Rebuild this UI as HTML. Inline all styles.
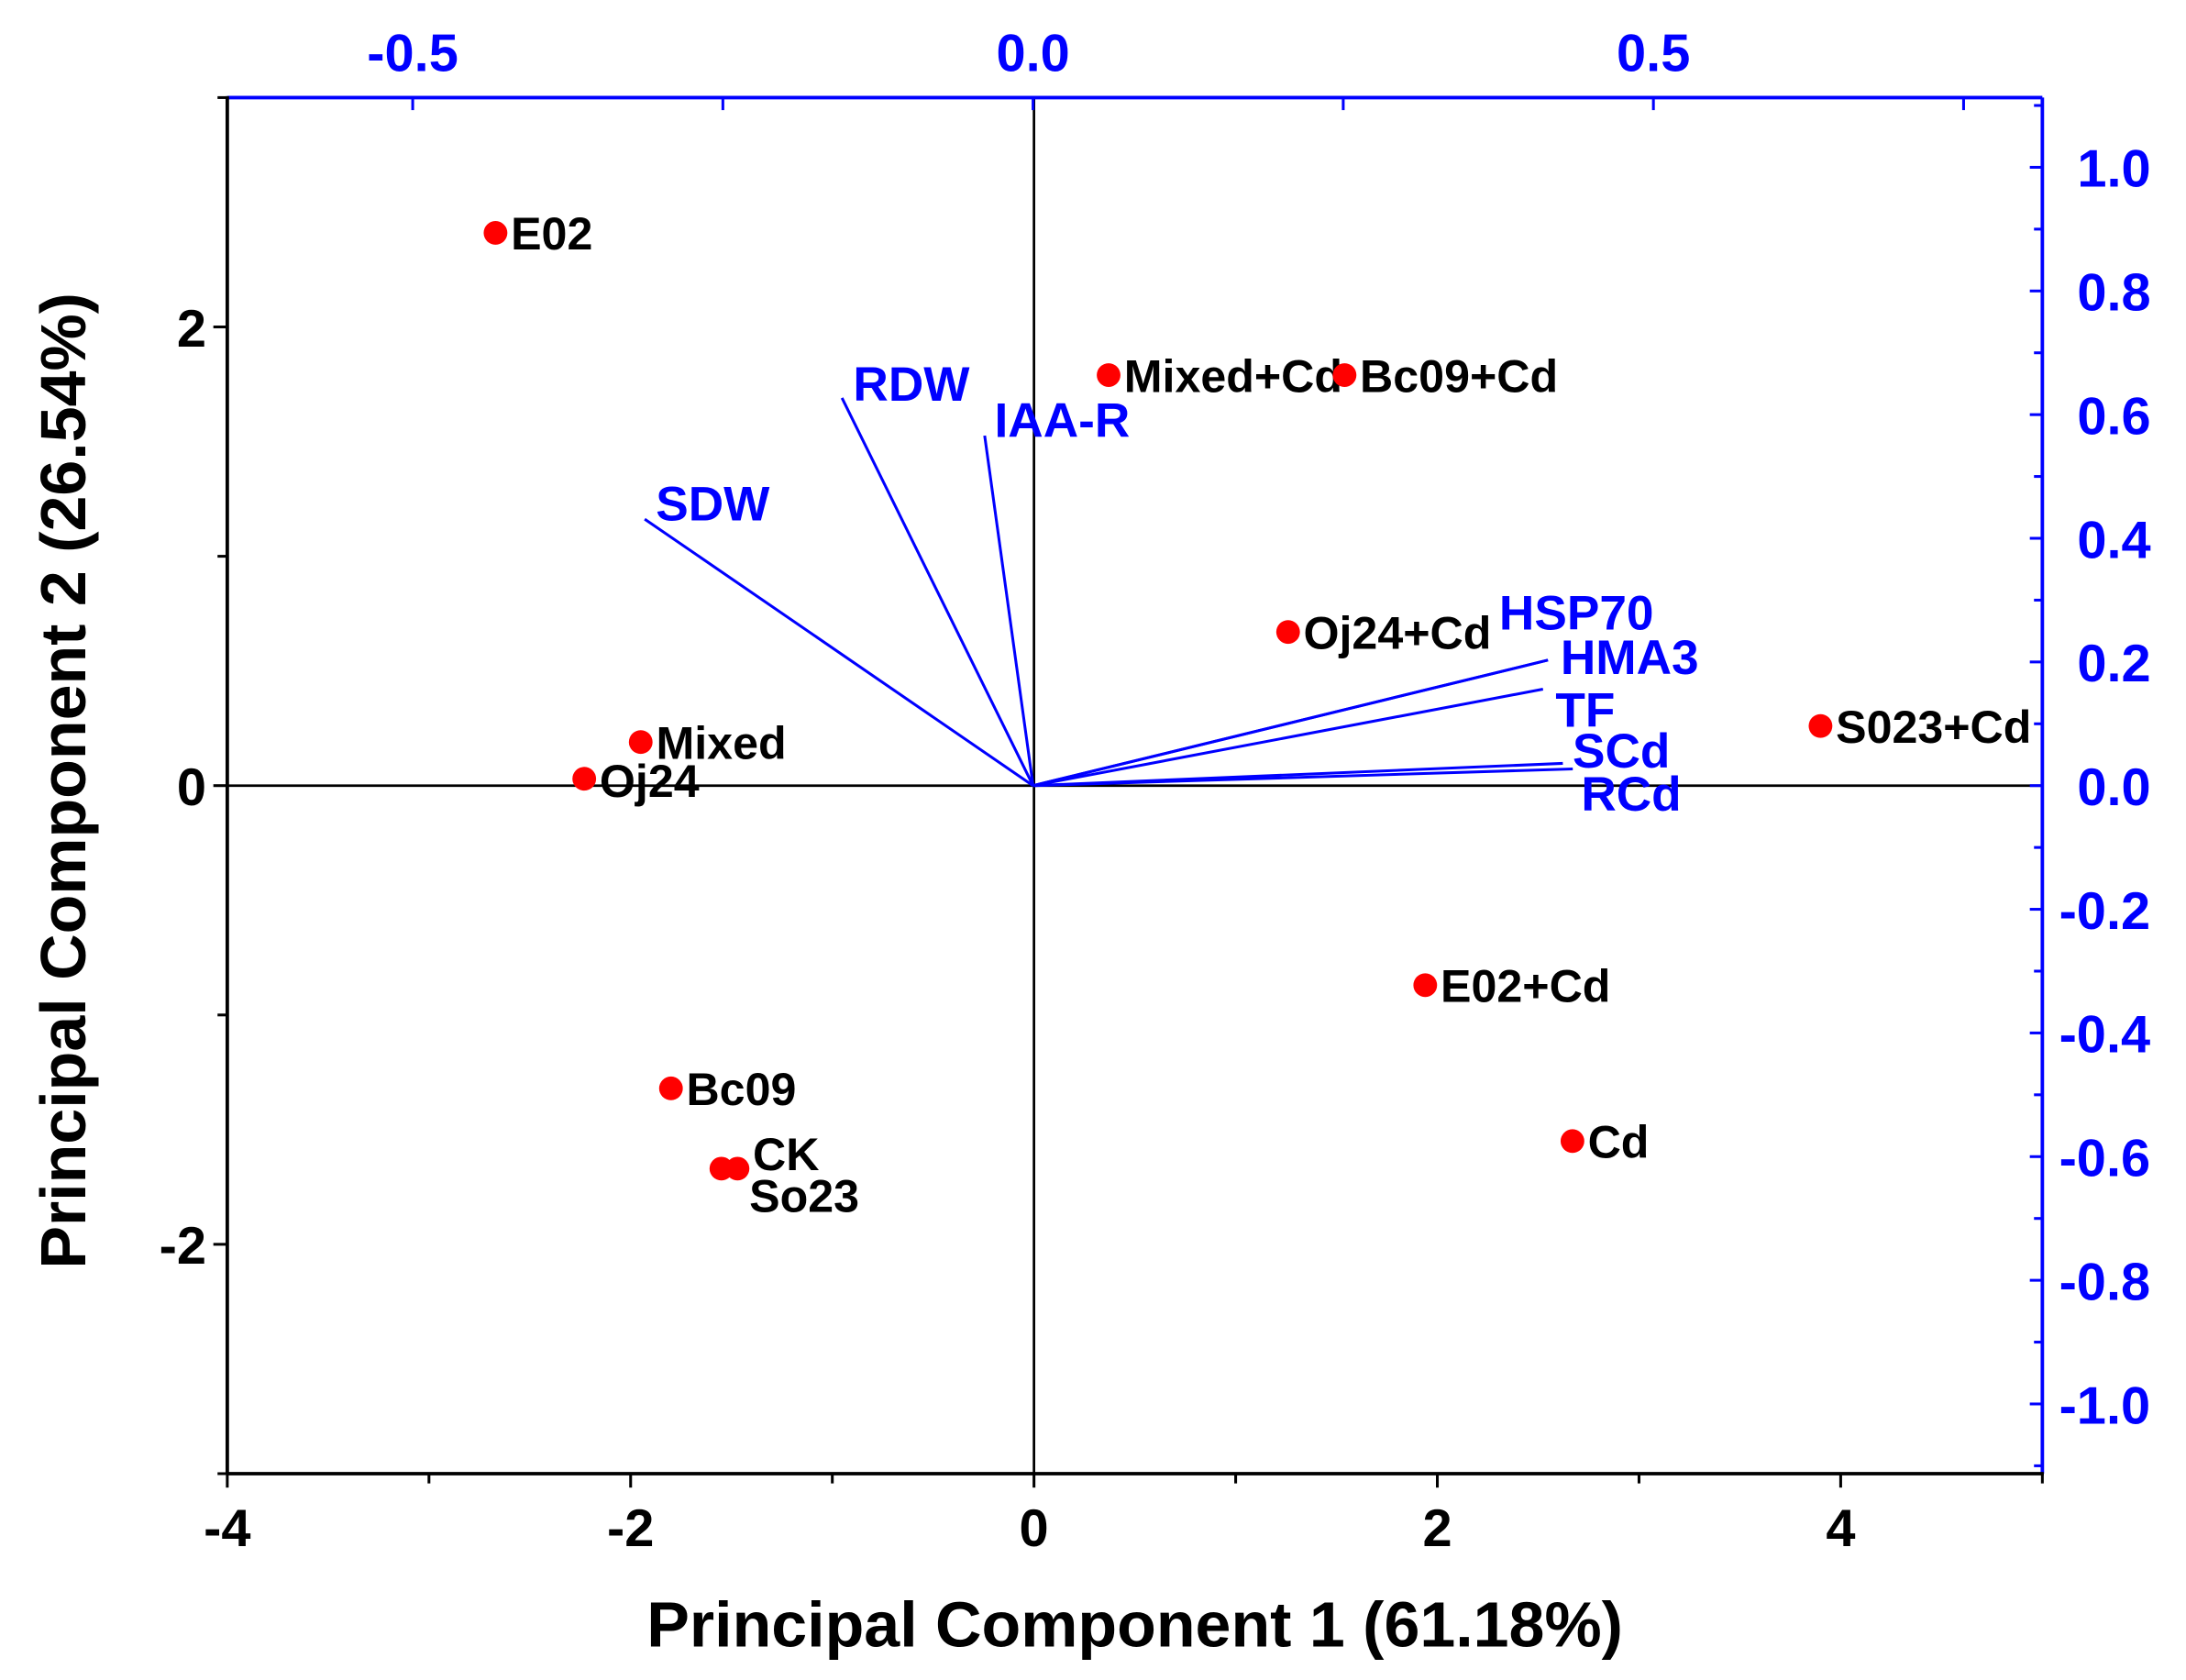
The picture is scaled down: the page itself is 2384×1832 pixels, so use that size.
<!DOCTYPE html>
<html><head><meta charset="utf-8"><style>html,body{margin:0;padding:0;background:#fff}svg{display:block}text{font-family:"Liberation Sans",Arial,sans-serif;font-weight:bold}</style></head>
<body>
<svg id="chart" width="2384" height="1832" viewBox="0 0 1568 1205" xmlns="http://www.w3.org/2000/svg"></svg>
<script>
const sampleNames=["E02","Mixed+Cd","Bc09+Cd","Oj24+Cd","S023+Cd","Mixed","Oj24","E02+Cd","Cd","Bc09","CK","So23"];
const pc1Scores=[-2.67,0.37,1.54,1.26,3.90,-1.95,-2.23,1.94,2.67,-1.80,-1.47,-1.55];
const pc2Scores=[2.41,1.79,1.79,0.67,0.26,0.19,0.03,-0.87,-1.55,-1.32,-1.67,-1.67];
const loadingNames=["SDW","RDW","IAA-R","HSP70","HMA3","TF","SCd","RCd"];
const loadingPC1=[-0.313,-0.154,-0.039,0.415,0.415,0.411,0.427,0.435];
const loadingPC2=[0.431,0.627,0.566,0.203,0.203,0.156,0.036,0.027];
const bottomTicks=[-4,-2,0,2,4];
const leftTicks=[-2,0,2];
const topTicks=["-0.5","0.0","0.5"];
const rightTicks=["1.0","0.8","0.6","0.4","0.2","0.0","-0.2","-0.4","-0.6","-0.8","-1.0"];

const L=163,R=1465,T=70,B=1057;
const sx=v=>L+(v+4)/9*(R-L);
const sy=v=>B-(v+3)/6*(B-T);
const lx=v=>741+v*890;
const ly=v=>563.5-v*443.5;
const svg=document.getElementById('chart');
const NS="http://www.w3.org/2000/svg";
function el(tag,attrs,parent){const e=document.createElementNS(NS,tag);for(const k in attrs)e.setAttribute(k,attrs[k]);(parent||svg).appendChild(e);return e;}
function txt(s,attrs){const t=el('text',attrs);t.textContent=s;return t;}

let z=el('line',{x1:L,x2:R,y1:sy(0),y2:sy(0),stroke:'#000','stroke-width':1.8});


z=el('line',{x1:sx(0),x2:sx(0),y1:T,y2:B,stroke:'#000','stroke-width':1.8});



let a=el('line',{x1:L,x2:R,y1:T,y2:T,stroke:'#0000ff','stroke-width':2.5});


a=el('line',{x1:R,x2:R,y1:T,y2:B,stroke:'#0000ff','stroke-width':2.5});


a=el('line',{x1:L,x2:L,y1:T-1,y2:B,stroke:'#000','stroke-width':2.5});


a=el('line',{x1:L,x2:R+1,y1:B,y2:B,stroke:'#000','stroke-width':2.5});



for(let v=-4;v<=5;v++){const major=v%2===0;el('line',{x1:sx(v),x2:sx(v),y1:B,y2:B+(major?10:7),stroke:'#000','stroke-width':2});}
bottomTicks.forEach(v=>{const t=txt(String(v),{x:sx(v),y:1109,'text-anchor':'middle','font-size':38,fill:'#000'});

});
for(let v=-3;v<=3;v++){const major=v%2===0;el('line',{x1:L,x2:L-(major?10:7),y1:sy(v),y2:sy(v),stroke:'#000','stroke-width':2});}
leftTicks.forEach(v=>{const t=txt(String(v),{x:148,y:sy(v)+14,'text-anchor':'end','font-size':38,fill:'#000'});

});
for(let v=-0.5;v<=0.76;v+=0.25){el('line',{x1:lx(v),x2:lx(v),y1:T,y2:T+9,stroke:'#0000ff','stroke-width':2});}
topTicks.forEach(s=>{const t=txt(s,{x:lx(parseFloat(s)),y:51,'text-anchor':'middle','font-size':38,fill:'#0000ff'});

});
for(let i=-11;i<=11;i++){const v=i/10;const major=i%2===0;el('line',{x1:R,x2:R-(major?9:6),y1:ly(v),y2:ly(v),stroke:'#0000ff','stroke-width':2});}
rightTicks.forEach(s=>{const t=txt(s,{x:s.startsWith('-')?1477:1490,y:ly(parseFloat(s))+14,'font-size':38,fill:'#0000ff'});

});

loadingNames.forEach((n,i)=>{
 const l=el('line',{x1:lx(0),y1:ly(0),x2:lx(loadingPC1[i]),y2:ly(loadingPC2[i]),stroke:'#0000ff','stroke-width':2});
 
 
});
const loadLabelOff=[[8,1],[8,2],[7,1],[-35,-22],[9,10],[9,27],[7,3],[6,30]];
loadingNames.forEach((n,i)=>{
 const t=txt(n,{x:lx(loadingPC1[i])+loadLabelOff[i][0],y:ly(loadingPC2[i])+loadLabelOff[i][1],'font-size':35,fill:'#0000ff'});
 
 
});

const labOff=[[11,12],[11,12],[11,12],[11,12],[11,12],[11,12],[11,13],[11,12],[11,12],[11,12],[11,1],[20,31]];
sampleNames.forEach((n,i)=>{
 const c=el('circle',{cx:sx(pc1Scores[i]),cy:sy(pc2Scores[i]),r:8.5,fill:'#ff0000'});
 
 
 const t=txt(n,{x:sx(pc1Scores[i])+labOff[i][0],y:sy(pc2Scores[i])+labOff[i][1],'font-size':33,fill:'#000'});
 
 
});

let t=txt('Principal Component 1 (61.18%)',{x:814,y:1181,'text-anchor':'middle','font-size':46,fill:'#000'});


t=txt('Principal Component 2 (26.54%)',{x:0,y:0,'text-anchor':'middle','font-size':46,fill:'#000',transform:'translate(61,560) rotate(-90)'});


</script>
</body></html>
